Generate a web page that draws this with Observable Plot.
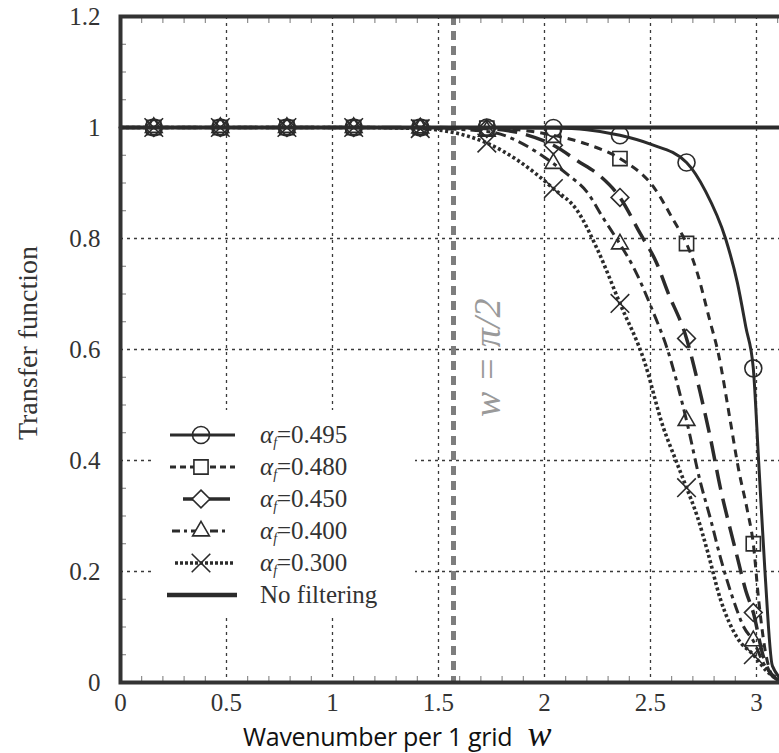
<!DOCTYPE html>
<html><head><meta charset="utf-8">
<script src="https://cdn.jsdelivr.net/npm/d3@7"></script>
<script src="https://cdn.jsdelivr.net/npm/@observablehq/plot@0.6"></script>
<style>
html,body{margin:0;padding:0;background:#fff;}
#wrap{position:relative;width:779px;height:753px;overflow:hidden;background:#fff;}
#wrap svg{max-width:none !important;}
</style></head><body><div id="wrap"></div>
<script>
// ---------- data ----------
const seriesLabels = ["0.495", "0.480", "0.450", "0.400", "0.300"];
const markerX = [0.157, 0.471, 0.785, 1.100, 1.414, 1.728, 2.042, 2.356, 2.670, 2.985];
const m495 = [1, 1, 1, 1, 1, 1.0, 0.999, 0.986, 0.937, 0.566];
const m480 = [1, 1, 1, 1, 1, 0.999, 0.986, 0.944, 0.791, 0.25];
const m450 = [1, 1, 1, 1, 1, 0.998, 0.968, 0.874, 0.62, 0.126];
const m400 = [1, 1, 1, 1, 0.999, 0.993, 0.935, 0.79, 0.472, 0.075];
const m300 = [1, 1, 1, 1, 0.998, 0.972, 0.89, 0.683, 0.351, 0.05];

const lx495 = [0, 1.414, 1.728, 2.042, 2.2, 2.356, 2.5, 2.67, 2.76, 2.854, 2.91, 2.95, 2.985, 3.01, 3.04, 3.075, 3.1416];
const ly495 = [1, 1, 1, 0.999, 0.996, 0.986, 0.97, 0.937, 0.885, 0.8, 0.72, 0.64, 0.566, 0.4, 0.2, 0.03, 0];
const lx480 = [0, 1.414, 1.728, 2.042, 2.2, 2.356, 2.52, 2.61, 2.67, 2.72, 2.78, 2.82, 2.877, 2.915, 2.957, 2.985, 3.01, 3.04, 3.08, 3.1416];
const ly480 = [1, 1, 0.999, 0.986, 0.97, 0.944, 0.89, 0.832, 0.791, 0.739, 0.652, 0.593, 0.47, 0.385, 0.31, 0.25, 0.15, 0.06, 0.01, 0];
const lx450 = [0, 1.414, 1.728, 2.042, 2.155, 2.264, 2.356, 2.45, 2.53, 2.58, 2.67, 2.736, 2.783, 2.83, 2.877, 2.91, 2.95, 2.985, 3.03, 3.08, 3.1416];
const ly450 = [1, 1, 0.998, 0.968, 0.94, 0.912, 0.874, 0.81, 0.755, 0.705, 0.62, 0.52, 0.44, 0.35, 0.275, 0.225, 0.165, 0.126, 0.05, 0.01, 0];
const lx400 = [0, 1.1, 1.414, 1.728, 2.042, 2.11, 2.2, 2.28, 2.356, 2.42, 2.51, 2.58, 2.67, 2.736, 2.783, 2.83, 2.89, 2.94, 2.985, 3.04, 3.1416];
const ly400 = [1, 1, 0.999, 0.993, 0.935, 0.915, 0.884, 0.835, 0.79, 0.748, 0.67, 0.6, 0.472, 0.36, 0.295, 0.225, 0.15, 0.1, 0.075, 0.03, 0];
const lx300 = [0, 1.1, 1.414, 1.728, 1.877, 2.042, 2.155, 2.25, 2.356, 2.47, 2.56, 2.62, 2.67, 2.72, 2.77, 2.83, 2.91, 2.985, 3.05, 3.1416];
const ly300 = [1, 1, 0.998, 0.972, 0.94, 0.89, 0.85, 0.78, 0.683, 0.58, 0.46, 0.4, 0.351, 0.3, 0.235, 0.15, 0.08, 0.05, 0.02, 0];

const noFilterX = [0, 3.1416];
const noFilterY = [1, 1];
const halfPi = [1.5708];

const xTicks = [0, 0.5, 1, 1.5, 2, 2.5, 3];
const yTicks = [0, 0.2, 0.4, 0.6, 0.8, 1, 1.2];
const xGrid = [0.5, 1, 1.5, 2, 2.5, 3];
const yGrid = [0.2, 0.4, 0.6, 0.8, 1.0];
const xMinor = [0.1,0.2,0.3,0.4,0.6,0.7,0.8,0.9,1.1,1.2,1.3,1.4,1.6,1.7,1.8,1.9,2.1,2.2,2.3,2.4,2.6,2.7,2.8,2.9,3.1];
const yMinor = [0.05,0.1,0.15,0.25,0.3,0.35,0.45,0.5,0.55,0.65,0.7,0.75,0.85,0.9,0.95,1.05,1.1,1.15];
const annotation = [{x: 1.5708, y: 0.585, text: "w = π/2"}];

// ---------- styles ----------
const ink = "#2b2b2b";
const serif = "'Liberation Serif', serif";
const styles = [
  {lx: lx495, ly: ly495, m: m495, dash: null, w: 3, symbol: "circle", r: 8.5},
  {lx: lx480, ly: ly480, m: m480, dash: "8,6", w: 3, symbol: "square", r: 8},
  {lx: lx450, ly: ly450, m: m450, dash: "20,9", w: 3.5, symbol: "diamond2", r: 8},
  {lx: lx400, ly: ly400, m: m400, dash: "11,5,4,5", w: 3, symbol: "triangle2", r: 8},
  {lx: lx300, ly: ly300, m: m300, dash: "3,2.6", w: 3.6, symbol: "times", r: 8.5}
];

const seriesMarks = [];
styles.forEach((st, k) => {
  const lineData = st.lx.map((x, i) => ({x, y: st.ly[i]}));
  const dotData = markerX.map((x, i) => ({x, y: st.m[i]}));
  seriesMarks.push(Plot.line(lineData, {x: "x", y: "y", curve: "monotone-x", stroke: ink, strokeWidth: st.w, strokeDasharray: st.dash, strokeLinecap: "butt"}));
  seriesMarks.push(Plot.dot(dotData, {x: "x", y: "y", symbol: () => st.symbol, r: st.r, stroke: ink, strokeWidth: 1.6, fill: "none"}));
});
const nf = noFilterX.map((x, i) => ({x, y: noFilterY[i]}));

const chart = Plot.plot({
  width: 790, height: 753,
  marginLeft: 120, marginRight: 4, marginTop: 16, marginBottom: 71,
  x: {domain: [0, Math.PI]},
  y: {domain: [0, 1.2]},
  style: {background: "#fff", maxWidth: "none"},
  marks: [
    Plot.gridX(xGrid, {stroke: "#3a3a3a", strokeOpacity: 1, strokeWidth: 1.3, strokeDasharray: "3,4"}),
    Plot.gridY(yGrid, {stroke: "#3a3a3a", strokeOpacity: 1, strokeWidth: 1.3, strokeDasharray: "3,4"}),
    Plot.axisX(xMinor, {anchor: "bottom", tickSize: -6, tickFormat: () => "", label: null, stroke: "#777"}),
    Plot.axisX(xMinor, {anchor: "top", tickSize: -6, tickFormat: () => "", label: null, stroke: "#777"}),
    Plot.axisY(yMinor, {anchor: "left", tickSize: -6, tickFormat: () => "", label: null, stroke: "#777"}),
    Plot.axisX(xTicks, {anchor: "bottom", tickSize: 0, tickPadding: 11, tickFormat: d => String(d), label: null, fill: "#333", fontFamily: serif, fontSize: 25}),
    Plot.axisY(yTicks, {anchor: "left", tickSize: 0, tickPadding: 20, tickFormat: d => String(d), label: null, fill: "#333", fontFamily: serif, fontSize: 25}),
    Plot.ruleX(halfPi, {stroke: "#7d7d7d", strokeWidth: 5, strokeDasharray: "9,6"}),
    Plot.text(annotation, {x: "x", y: "y", text: "text", rotate: -90, dx: 34, fontSize: 38, fontStyle: "italic", fill: "#9a9a9a", fontFamily: serif}),
    ...seriesMarks,
    Plot.line(nf, {x: "x", y: "y", stroke: ink, strokeWidth: 4}),
    Plot.frame({stroke: "#333", strokeWidth: 4})
  ]
});
chart.style.maxWidth = "none";
document.getElementById("wrap").appendChild(chart);

// ---------- legend, axis titles (drawn into the same svg) ----------
const svg = d3.select(chart);
svg.selectAll("text").attr("font-family", serif);
const lg = svg.append("g").attr("text-anchor", "start");
lg.append("rect").attr("x", 152).attr("y", 410).attr("width", 263).attr("height", 207).attr("fill", "#fff");
const rowY = [435, 467, 499, 531, 563, 595];
const legendLines = [
  {x1: 170, x2: 235}, {x1: 170, x2: 235}, {x1: 183, x2: 230}, {x1: 172, x2: 226}, {x1: 175, x2: 235}
];
const legendDash = [null, "6,4", null, "8,4,3,4", "3,2"];
const symMap = {circle: d3.symbolCircle, square: d3.symbolSquare, diamond2: d3.symbolDiamond2, triangle2: d3.symbolTriangle2, times: d3.symbolTimes};
styles.forEach((st, k) => {
  const y = rowY[k];
  const l = legendLines[k];
  lg.append("line").attr("x1", l.x1).attr("x2", l.x2).attr("y1", y).attr("y2", y)
    .attr("stroke", ink).attr("stroke-width", st.w).attr("stroke-dasharray", legendDash[k]);
  lg.append("path").attr("transform", `translate(201,${y})`)
    .attr("d", d3.symbol(symMap[st.symbol], Math.PI * st.r * st.r)())
    .attr("fill", k === 1 || k === 2 || k === 3 ? "#fff" : "none").attr("stroke", ink).attr("stroke-width", 1.6);
  const t = lg.append("text").attr("x", 260).attr("y", y + 8).attr("text-anchor", "start")
    .attr("font-family", serif).attr("font-size", 25).attr("fill", "#333");
  t.append("tspan").attr("font-style", "italic").text("α");
  t.append("tspan").attr("font-style", "italic").attr("font-size", 14).attr("dy", 4).text("f");
  t.append("tspan").attr("dy", -4).text("=" + seriesLabels[k]);
});
lg.append("line").attr("x1", 167).attr("x2", 237).attr("y1", rowY[5]).attr("y2", rowY[5]).attr("stroke", ink).attr("stroke-width", 4.5);
lg.append("text").attr("x", 260).attr("y", rowY[5] + 8).attr("text-anchor", "start").attr("font-family", serif).attr("font-size", 25).attr("fill", "#333").text("No filtering");

// y title
svg.append("text").attr("transform", "translate(37,343) rotate(-90)").attr("text-anchor", "middle")
  .attr("font-family", serif).attr("font-size", 28).attr("fill", "#333").text("Transfer function");
// x title
const xt = svg.append("text").attr("x", 243).attr("y", 746).attr("fill", "#111").attr("text-anchor", "start");
xt.append("tspan").attr("font-family", "'Open Sans', sans-serif").attr("font-size", 25).attr("letter-spacing", "-0.3").text("Wavenumber per 1 grid ");
xt.append("tspan").attr("font-family", serif).attr("font-style", "italic").attr("font-size", 36).text(" w");
</script>
</body></html>
